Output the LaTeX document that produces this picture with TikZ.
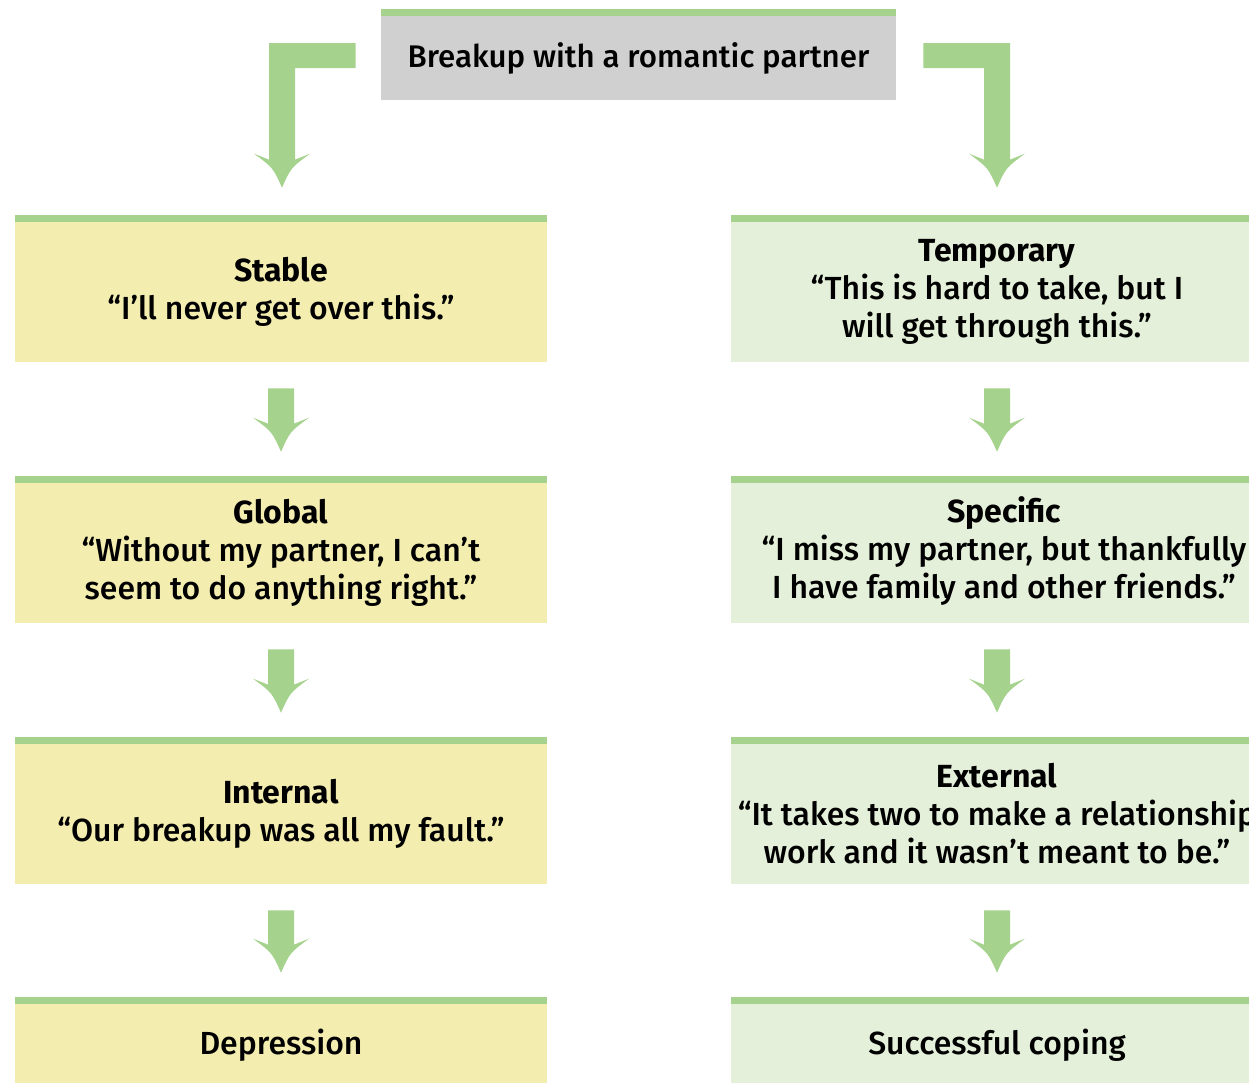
\documentclass[tikz,border=0pt]{standalone}
\usepackage{fontspec}
\setmainfont{Fira Sans}[UprightFont=* Medium, BoldFont=* Bold]
\usetikzlibrary{calc}
\definecolor{barc}{RGB}{165,210,140}
\definecolor{yelc}{RGB}{243,237,176}
\definecolor{grnc}{RGB}{228,240,218}
\definecolor{grayc}{RGB}{208,208,208}
\tikzset{
  box/.style={rectangle, inner sep=0pt, align=center, text=black,
    minimum width=10.64cm, font=\fontsize{18.2}{21.6}\selectfont},
  negbox/.style={box, fill=yelc, minimum height=2.8cm},
  posbox/.style={box, fill=grnc, minimum height=2.8cm},
  arrowc/.style={fill=barc},
}
\newcommand\greenbar[1]{\fill[barc] ($(#1.north west)+(0,-7)$) rectangle (#1.north east);}
\newcommand\fatarrow[2]{%
  \fill[arrowc] ($(#1)+(-13,0)$) -- ($(#1)+(13,0)$) -- ($(#2)+(13,-28)$) -- ($(#2)+(28,-34)$)
    .. controls ($(#2)+(9,-20)$) .. (#2) .. controls ($(#2)+(-9,-20)$) .. ($(#2)+(-28,-34)$)
    -- ($(#2)+(-13,-28)$) -- cycle;}
\begin{document}
\begin{tikzpicture}[x=0.02cm, y=-0.02cm]
\useasboundingbox (0,0) rectangle (1249,1083);
\clip (0,0) rectangle (1249,1083);
% top box
\node[box, fill=grayc, minimum width=10.3cm, minimum height=1.68cm, font=\fontsize{17.8}{21.6}\selectfont] (top) at (638.5,58) {Breakup with a romantic partner};
\greenbar{top}
% left column
\node[negbox] (s1) at (281,292) {\textbf{Stable}\\“I’ll never get over this.”};
\node[negbox] (s2) at (281,553) {\textbf{Global}\\“Without my partner, I can’t\\seem to do anything right.”};
\node[negbox] (s3) at (281,814) {\textbf{Internal}\\“Our breakup was all my fault.”};
\node[box, fill=yelc, minimum height=1.64cm] (s4) at (281,1045) {Depression};
% right column
\node[posbox] (t1) at (997,292) {\textbf{Temporary}\\“This is hard to take, but I\\will get through this.”};
\node[posbox] (t2) at (997,553) {};
\node[box] (t2text) at (1004,551) {\textbf{Specific}\\“I miss my partner, but thankfully\\I have family and other friends.”};
\node[posbox] (t3) at (997,814) {\textbf{External}\\“It takes two to make a relationship\\work and it wasn’t meant to be.”};
\node[box, fill=grnc, minimum height=1.64cm] (t4) at (997,1045) {Successful coping};
\foreach \n in {s1,s2,s3,s4,t1,t2,t3,t4}{\greenbar{\n}}
% small arrows
\foreach \a/\b in {s1/s2,s2/s3,s3/s4,t1/t2,t2/t3,t3/t4}{
  \coordinate (\a-st) at ($(\a.south)+(0,26)$);
  \coordinate (\a-tp) at ($(\b.north)+(0,-31)$);
  \fatarrow{\a-st}{\a-tp}
}
% L arrows
\coordinate (Lh1) at ($(top.west)+(-25,-15)$);
\coordinate (Lh2) at ($(top.west)+(-25,10)$);
\coordinate (Ltip) at ($(s1.north)+(1,-34)$);
\fill[arrowc] (Lh1) -- (Lh2) -| ($(Ltip)+(13,-28)$) -- ($(Ltip)+(28,-34)$)
  .. controls ($(Ltip)+(9,-20)$) .. (Ltip) .. controls ($(Ltip)+(-9,-20)$) .. ($(Ltip)+(-28,-34)$)
  -- ($(Ltip)+(-13,-28)$) |- (Lh1) -- cycle;
\coordinate (Rh1) at ($(top.east)+(27,-15)$);
\coordinate (Rh2) at ($(top.east)+(27,10)$);
\coordinate (Rtip) at ($(t1.north)+(0,-34)$);
\fill[arrowc] (Rh1) -| ($(Rtip)+(13,-28)$) -- ($(Rtip)+(28,-34)$)
  .. controls ($(Rtip)+(9,-20)$) .. (Rtip) .. controls ($(Rtip)+(-9,-20)$) .. ($(Rtip)+(-28,-34)$)
  -- ($(Rtip)+(-13,-28)$) |- (Rh2) -- cycle;
\end{tikzpicture}
\end{document}
